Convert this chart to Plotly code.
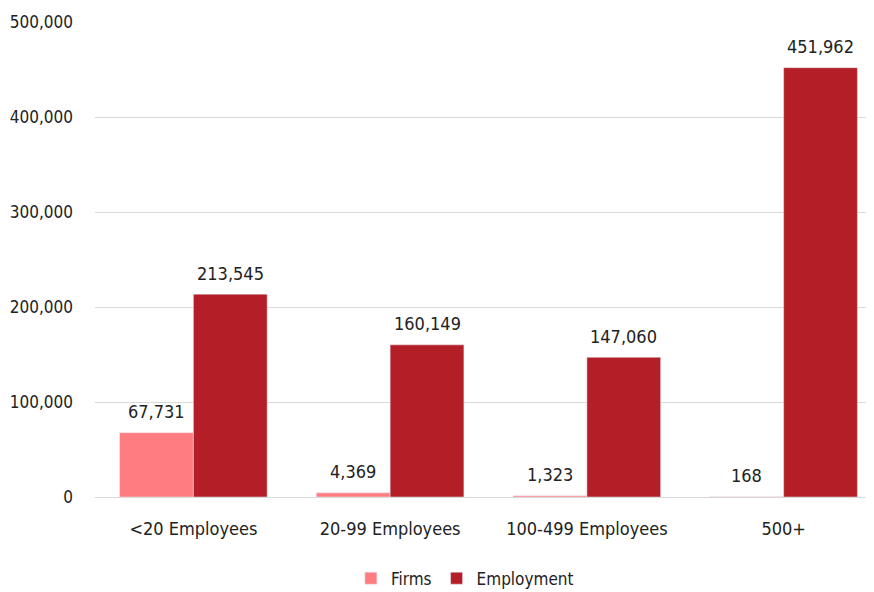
import plotly.graph_objects as go

categories = ["<20 Employees", "20-99 Employees", "100-499 Employees", "500+"]
firms = [67731, 4369, 1323, 168]
employment = [213545, 160149, 147060, 451962]
tick_vals = [0, 100000, 200000, 300000, 400000, 500000]
tick_text = ["0", "100,000", "200,000", "300,000", "400,000", "500,000"]

FONT = "DejaVu Sans Condensed, Liberation Sans Narrow, sans-serif"

fig = go.Figure()
fig.add_trace(go.Bar(x=categories, y=firms, name="Firms", marker_color="#FF7C80"))
fig.add_trace(go.Bar(x=categories, y=employment, name="Employment", marker_color="#B41F27"))

# value labels placed above each bar via annotations (offset to each group slot)
for cat, f, e in zip(categories, firms, employment):
    fig.add_annotation(x=cat, y=f, text=f"{f:,}", showarrow=False, xshift=-37, yshift=21,
                       font=dict(size=18, color="#222"))
    fig.add_annotation(x=cat, y=e, text=f"{e:,}", showarrow=False, xshift=37, yshift=21,
                       font=dict(size=18, color="#222"))

fig.update_layout(
    width=874, height=592,
    margin=dict(l=87, r=0, t=14, b=103, autoexpand=False),
    paper_bgcolor="white", plot_bgcolor="white",
    barmode="group", bargap=0.25, bargroupgap=0,
    font=dict(family=FONT, size=18, color="#222"),
    showlegend=True,
    legend=dict(orientation="h", x=0.47, xanchor="center", y=-0.134, yanchor="top",
                font=dict(size=17), itemwidth=30, tracegroupgap=0),
    xaxis=dict(showgrid=False, showline=False, ticks="", tickfont=dict(size=18),
               range=[-0.5, 3.5], automargin=False, ticklabelstandoff=19),
    yaxis=dict(range=[0, 500000], tickvals=tick_vals, ticktext=tick_text,
               showgrid=True, gridcolor="#d9d9d9", gridwidth=1,
               zeroline=True, zerolinecolor="#d9d9d9", zerolinewidth=1,
               ticks="", ticklabelstandoff=21, tickfont=dict(size=17), automargin=False),
)
fig.write_html("out.html")
